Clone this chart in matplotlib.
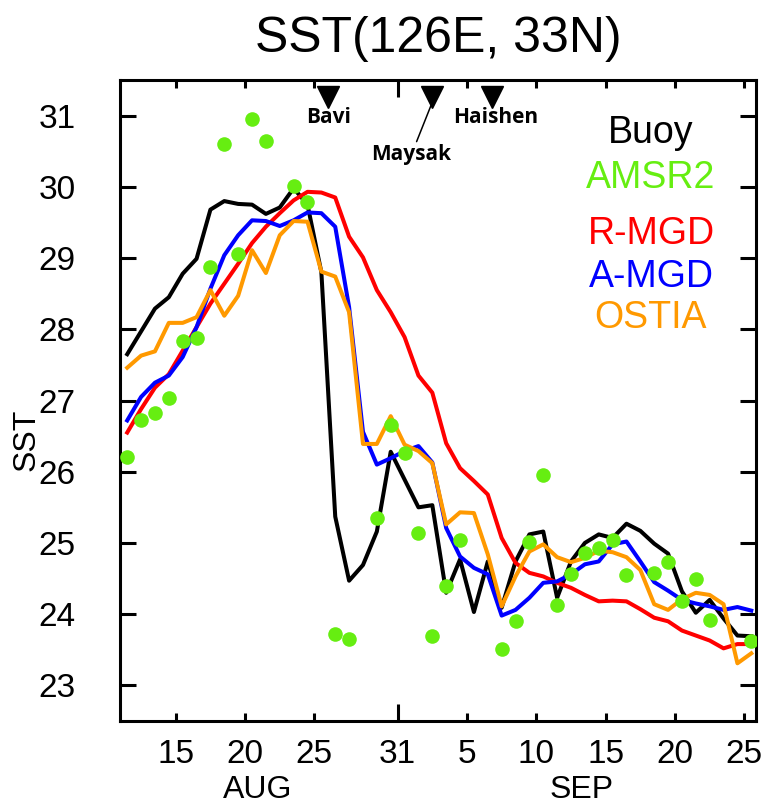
import numpy as np
import matplotlib
matplotlib.use("Agg")
import matplotlib.pyplot as plt
from matplotlib.transforms import blended_transform_factory

# ---------------- data ----------------
# day numbers counted from Aug 1 (Sep d = 31 + d), daily means for Aug 11 .. Sep 25
days = np.arange(11, 57)

buoy = [27.65, 27.97, 28.29, 28.45, 28.78, 28.99, 29.68, 29.80, 29.76, 29.75,
        29.62, 29.71, 29.98, 29.75, 28.80, 25.37, 24.47, 24.69, 25.16, 26.28,
        25.89, 25.50, 25.53, 24.30, 24.77, 24.03, 24.74, 24.09, 24.74, 25.12,
        25.16, 24.23, 24.74, 25.00, 25.12, 25.07, 25.27, 25.17, 24.99, 24.85,
        24.32, 24.02, 24.20, 23.94, 23.70, 23.69]

amsr2 = [26.21, 26.72, 26.82, 27.03, 27.84, 27.88, 28.88, 30.60, 29.05, 30.95,
         30.64, np.nan, 30.01, 29.79, np.nan, 23.72, 23.65, np.nan, 25.35, 26.66,
         26.26, 25.14, 23.70, 24.40, 25.04, np.nan, np.nan, 23.51, 23.90, 25.01,
         25.96, 24.13, 24.56, 24.86, 24.93, 25.04, 24.55, np.nan, 24.58, 24.73,
         24.19, 24.49, 23.92, np.nan, np.nan, 23.62]

r_mgd = [26.55, 26.88, 27.18, 27.37, 27.70, 28.03, 28.36, 28.64, 28.92, 29.21,
         29.44, 29.63, 29.81, 29.93, 29.92, 29.85, 29.30, 29.01, 28.55, 28.24,
         27.89, 27.35, 27.11, 26.40, 26.05, 25.87, 25.68, 25.07, 24.72, 24.58,
         24.53, 24.44, 24.37, 24.27, 24.18, 24.19, 24.18, 24.07, 23.95, 23.90,
         23.77, 23.70, 23.63, 23.52, 23.58, 23.58]

a_mgd = [26.72, 27.05, 27.25, 27.35, 27.61, 28.03, 28.57, 29.04, 29.32, 29.53,
         29.52, 29.45, 29.53, 29.64, 29.63, 29.44, 28.31, 26.56, 26.10, 26.19,
         26.29, 26.36, 26.13, 25.21, 24.81, 24.65, 24.56, 23.98, 24.06, 24.23,
         24.44, 24.46, 24.56, 24.70, 24.74, 24.98, 25.02, 24.74, 24.45, 24.33,
         24.20, 24.15, 24.11, 24.06, 24.10, 24.05]

ostia = [27.46, 27.63, 27.69, 28.09, 28.09, 28.17, 28.55, 28.19, 28.47, 29.11,
         28.79, 29.32, 29.52, 29.51, 28.81, 28.74, 28.24, 26.39, 26.39, 26.78,
         26.38, 26.29, 26.12, 25.26, 25.43, 25.42, 24.84, 24.11, 24.53, 24.88,
         24.98, 24.80, 24.73, 24.79, 24.89, 24.87, 24.80, 24.62, 24.14, 24.06,
         24.21, 24.30, 24.27, 24.14, 23.31, 23.45]

xtick_days = [15, 20, 25, 31, 36, 41, 46, 51, 56]
xtick_labels = ["15", "20", "25", "31", "5", "10", "15", "20", "25"]
ytick_values = [23, 24, 25, 26, 27, 28, 29, 30, 31]
month_names = ["AUG", "SEP"]
month_days = [20.9, 44.3]

typhoon_names = ["Bavi", "Maysak", "Haishen"]
typhoon_days = [26.0, 33.5, 37.8]

legend_names = ["Buoy", "AMSR2", "R-MGD", "A-MGD", "OSTIA"]
legend_colors = ["black", "#66ee11", "#ff0000", "#0000ff", "#ff9900"]

# ---------------- figure ----------------
plt.rcParams['font.family'] = ['Liberation Sans', 'DejaVu Sans']
narrow = ['Liberation Sans Narrow', 'Liberation Sans', 'DejaVu Sans']

W, H = 763, 810
fig = plt.figure(figsize=(W / 100, H / 100), dpi=100)
ax = fig.add_axes([120 / W, 89 / H, 636 / W, 641 / H])

x = days + 0.5  # daily means plotted at noon

lw = 2.9
ax.plot(x, buoy, color="black", lw=lw, zorder=3)
ax.plot(x, r_mgd, color="#ff0000", lw=lw, zorder=4)
ax.plot(x, a_mgd, color="#0000ff", lw=lw, zorder=5)
ax.plot(x, ostia, color="#ff9900", lw=lw, zorder=6)
ax.plot(x, amsr2, linestyle="none", marker="o", ms=10.5, color="#66ee11",
        markeredgewidth=0, zorder=7)

ax.set_xlim(10.98, 56.84)
ax.set_ylim(22.5, 31.5)

ax.set_xticks(xtick_days)
ax.set_xticklabels(xtick_labels, fontsize=24, family=narrow)
ax.set_yticks(ytick_values)
ax.set_yticklabels([str(v) for v in ytick_values], fontsize=24, family=narrow)

ax.tick_params(axis="both", direction="in", width=2.2, top=True, right=True)
ax.tick_params(axis="y", length=11.5, pad=32)
ax.tick_params(axis="x", length=6, pad=13)
for t in ax.xaxis.get_major_ticks():
    if t.get_loc() == 31:
        t.tick1line.set_markersize(12)
        t.tick2line.set_markersize(12)

for s in ax.spines.values():
    s.set_linewidth(2.2)

ax.set_ylabel("SST", fontsize=23, family=narrow)
ax.yaxis.set_label_coords((42 - 120) / 636, 1 - (440 - 80) / 641)
ax.set_title("SST(126E, 33N)", fontsize=36, pad=20)

# month labels
trans = blended_transform_factory(ax.transData, ax.transAxes)
for name, d in zip(month_names, month_days):
    ax.text(d, -0.108, name, transform=trans, ha="center", va="center",
            fontsize=23, family=narrow)

# typhoon markers
tri_y = 1 - 17 / 641
ax.plot(typhoon_days, [tri_y] * len(typhoon_days), transform=trans, linestyle="none",
        marker="v", ms=16, color="black", clip_on=False, zorder=8)
offsets = [(0, -15), (-15, -38), (3, -15)]
for name, d, off in zip(typhoon_names, typhoon_days, offsets):
    if name == "Maysak":
        ax.annotate(name, xy=(d, tri_y - 0.008), xycoords=trans, xytext=off,
                    textcoords="offset points", ha="center", va="center",
                    fontsize=15, fontweight="bold", family=["Open Sans", "DejaVu Sans"],
                    arrowprops=dict(arrowstyle="-", lw=1.1, color="black",
                                    shrinkA=0, shrinkB=0, relpos=(0.55, 1.0)))
    else:
        ax.annotate(name, xy=(d, tri_y), xycoords=trans, xytext=off,
                    textcoords="offset points", ha="center", va="center",
                    fontsize=15, fontweight="bold", family=["Open Sans", "DejaVu Sans"])

# legend as coloured text
leg_y_px = [133, 178, 234, 277, 318]
for name, c, ypx in zip(legend_names, legend_colors, leg_y_px):
    ax.text((651 - 120) / 636, 1 - (ypx - 80) / 641, name, transform=ax.transAxes,
            ha="center", va="center", fontsize=27, color=c)

fig.savefig("out.png", dpi=100)
